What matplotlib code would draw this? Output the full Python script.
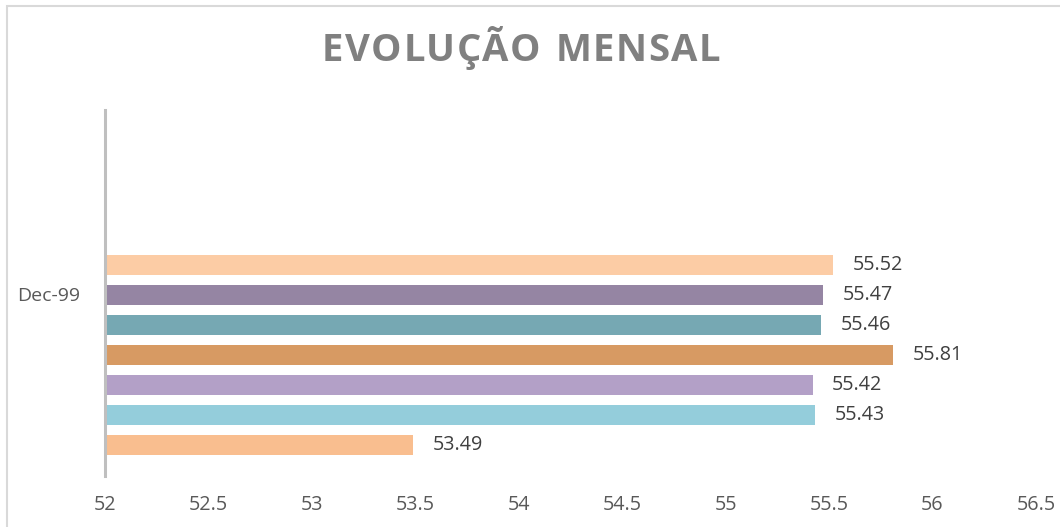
import matplotlib.pyplot as plt
from matplotlib.patches import Rectangle

# data (bottom bar first)
category = "Dec-99"
values = [53.49, 55.43, 55.42, 55.81, 55.46, 55.47, 55.52]
colors = ["#F9BE8F", "#94CDDB", "#B3A0C7", "#D79A63", "#76A8B3", "#9585A3", "#FCCCA5"]
xticks = [52, 52.5, 53, 53.5, 54, 54.5, 55, 55.5, 56, 56.5]
title = "EVOLUÇÃO MENSAL"

W, H = 1060, 527
fig = plt.figure(figsize=(W / 100, H / 100), dpi=100)
plt.rcParams['font.family'] = ['Open Sans', 'DejaVu Sans']

# chart border (light gray, left/top visible)
fig.patches.append(Rectangle((6.5 / W, -0.05), 1.2, 1 - 6 / H + 0.05,
                             transform=fig.transFigure, fill=False,
                             edgecolor="#D9D9D9", linewidth=1.5))

left, right, top, bottom = 105, 1036, 110, 476
ax = fig.add_axes([left / W, 1 - bottom / H, (right - left) / W, (bottom - top) / H])

pos = list(range(len(values)))
ax.barh(pos, [v - 52 for v in values], left=52, height=0.67, color=colors)
for p, v in zip(pos, values):
    ax.text(v + 0.095, p, f"{v:.2f}", va="center", ha="left", fontsize=14.2, color="#404040")

ax.set_xlim(52, 56.5)
ax.set_ylim(-1.03, 11.17)
ax.set_xticks(xticks)
ax.set_xticklabels([f"{t:g}" for t in xticks], fontsize=14.2, color="#595959")
ax.set_yticks([5.05])
ax.set_yticklabels([category], fontsize=14, color="#595959")
ax.tick_params(axis="both", length=0)
ax.tick_params(axis="x", pad=14)
ax.tick_params(axis="y", pad=18)
for s in ["top", "right", "bottom"]:
    ax.spines[s].set_visible(False)
ax.spines["left"].set_color("#BFBFBF")
ax.spines["left"].set_linewidth(2.2)
ax.patch.set_alpha(0)

# title with letter spacing, drawn char by char
renderer = fig.canvas.get_renderer()
tkw = dict(fontsize=27.5, fontweight="bold", color="#808080", va="center", ha="left")
x0, x1, yc = 322, 720, 1 - 51 / H
widths = []
for ch in title:
    t = fig.text(0, 0, ch if ch != " " else "i", **tkw)
    widths.append(t.get_window_extent(renderer).width)
    t.remove()
gap = ((x1 - x0) - sum(widths)) / (len(title) - 1)
x = x0
for ch, w in zip(title, widths):
    if ch != " ":
        fig.text(x / W, yc, ch, **tkw)
    x += w + gap

fig.savefig("out.png", dpi=100)
